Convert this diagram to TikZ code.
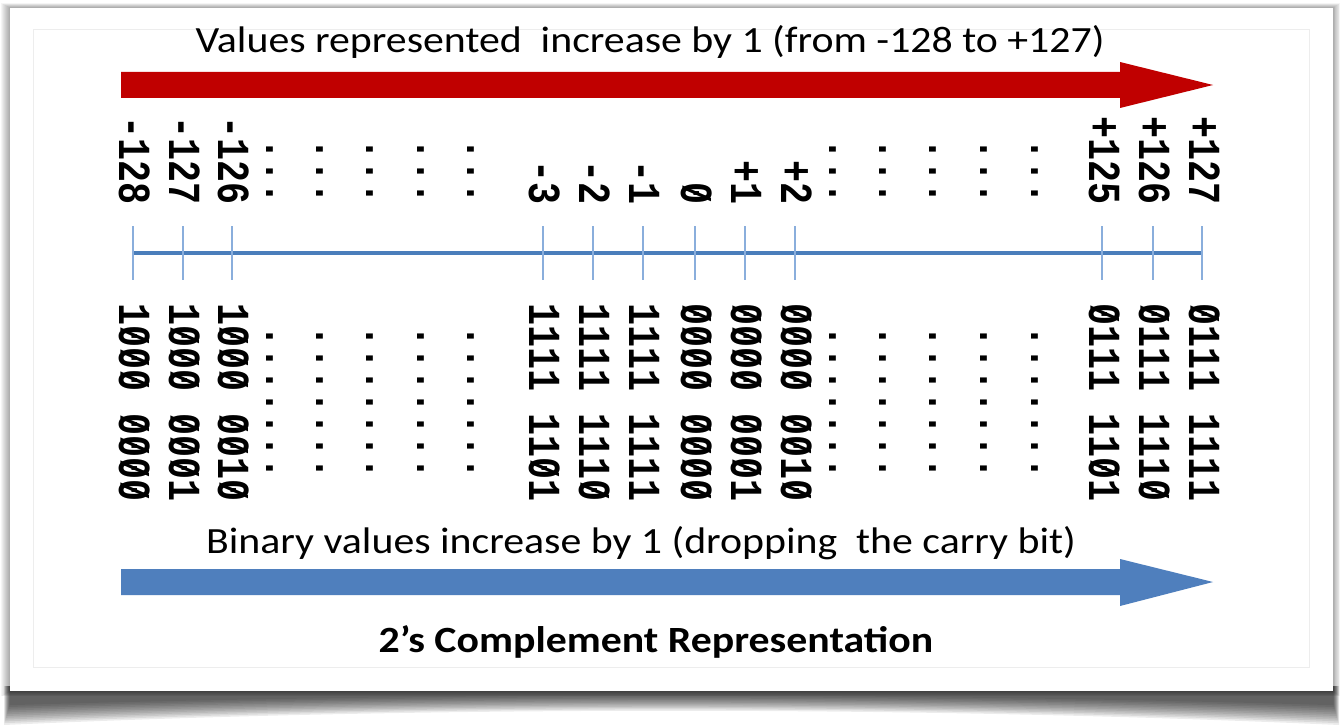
\documentclass[tikz,border=0pt]{standalone}
\usepackage{fontspec}
\usepackage{graphicx}
\setmainfont{Carlito}
\newfontfamily\codefont{Liberation Mono}
\definecolor{arrowred}{HTML}{C00000}
\definecolor{arrowblue}{HTML}{4F7FBD}
\definecolor{axisblue}{HTML}{4A7EBB}
\definecolor{tickblue}{HTML}{8AAEDC}
% slashed zero: a 0 with a slightly shorter / laid over it in the same cell
\newcommand\zr{\makebox[0pt][l]{0}\makebox[0.6em][c]{\raisebox{0.04em}{\scalebox{0.85}{/}}}}
% runs of dots standing for the omitted columns
\newcommand\threedots{...}
\newcommand\sevendots{\ .......}
% widen the glyphs across the reading direction
\newcommand\wide[1]{\scalebox{1}[1.25]{#1}}
\newcommand\broad[1]{\scalebox{1.13}[1]{#1}}
\tikzset{
  val/.style={rotate=-90, anchor=east, inner sep=0pt, text height=28bp, text depth=0pt,
    font=\codefont\bfseries\fontsize{36.7bp}{40bp}\selectfont},
  bin/.style={val, anchor=west},
  tickline/.style={tickblue, line width=2.5bp},
  axis/.style={axisblue, line width=4bp},
  caption/.style={font=\fontsize{37bp}{44bp}\selectfont, anchor=base, inner sep=0pt},
}
\begin{document}
\begin{tikzpicture}[x=1bp, y=-1bp]
\useasboundingbox (0,0) rectangle (1340,725);
\fill[white] (0,0) rectangle (1340,725);
% soft shadow around the card
\foreach \i in {1,...,9}
  \fill[black, opacity=0.04] (10-\i,8-\i*0.5) rectangle (1333+\i*0.8,691+\i*0.6);
% curled shadow under the lower edge
\foreach \i in {0,...,11}
  \fill[black, opacity=0.075] (4+\i*0.5,686) -- (4+\i*0.5,725-\i*1.8)
     .. controls (420,706-\i*1.2) and (920,706-\i*1.2) .. (1339-\i*0.5,725-\i*1.8)
     -- (1339-\i*0.5,686) -- cycle;
% the card and its inner frame
\fill[white] (10,8) rectangle (1333,691);
\draw[black!7, line width=1bp] (33,30) rectangle (1309,667);

% captions
\node[caption] (top) at (650,53) {\broad{Values represented\ \ increase by 1 (from -128 to +127)}};
\node[caption] (bottom) at (641,553) {\broad{Binary values increase by 1 (dropping\ \ the carry bit)}};
\node[caption, font=\bfseries\fontsize{37bp}{44bp}\selectfont] (title) at (656,652) {\broad{2’s Complement Representation}};

% block arrows
\fill[arrowred] (121,72) -- (1120,72) -- (1120,62) -- (1213,85) -- (1120,108) -- (1120,98) -- (121,98) -- cycle;
\fill[arrowblue] (121,569) -- (1120,569) -- (1120,559) -- (1213,582) -- (1120,606) -- (1120,595) -- (121,595) -- cycle;

% number line
\coordinate (nl-start) at (133,253);
\coordinate (nl-end) at (1202,253);
\draw[axis] (nl-start) -- (nl-end);
\foreach \x in {133,183,232,543,593,643,695,745,795,1102,1153,1202}
  \draw[tickline] (\x,226) -- (\x,280);

% signed values above the line
\foreach \x/\t [count=\n] in {
  133/-128, 183/-127, 232/-126, 280/\threedots, 330/\threedots, 380/\threedots, 431/\threedots, 481/\threedots,
  543/-3, 593/-2, 643/-1, 695/\zr, 745/+1, 795/+2,
  843/\threedots, 893/\threedots, 943/\threedots, 994/\threedots, 1045/\threedots,
  1103/+125, 1153/+126, 1203/+127}
  \node[val] (v\n) at (\x,205) {\wide{\t}};

% bit patterns below the line
\foreach \x/\t [count=\n] in {
  133/1\zr\zr\zr\ \zr\zr\zr\zr, 183/1\zr\zr\zr\ \zr\zr\zr1, 232/1\zr\zr\zr\ \zr\zr1\zr,
  280/\sevendots, 330/\sevendots, 380/\sevendots, 431/\sevendots, 481/\sevendots,
  543/1111\ 11\zr1, 593/1111\ 111\zr, 643/1111\ 1111,
  695/\zr\zr\zr\zr\ \zr\zr\zr\zr, 745/\zr\zr\zr\zr\ \zr\zr\zr1, 795/\zr\zr\zr\zr\ \zr\zr1\zr,
  843/\sevendots, 893/\sevendots, 943/\sevendots, 994/\sevendots, 1045/\sevendots,
  1103/\zr111\ 11\zr1, 1153/\zr111\ 111\zr, 1203/\zr111\ 1111}
  \node[bin] (b\n) at (\x,303) {\wide{\t}};
\end{tikzpicture}
\end{document}
